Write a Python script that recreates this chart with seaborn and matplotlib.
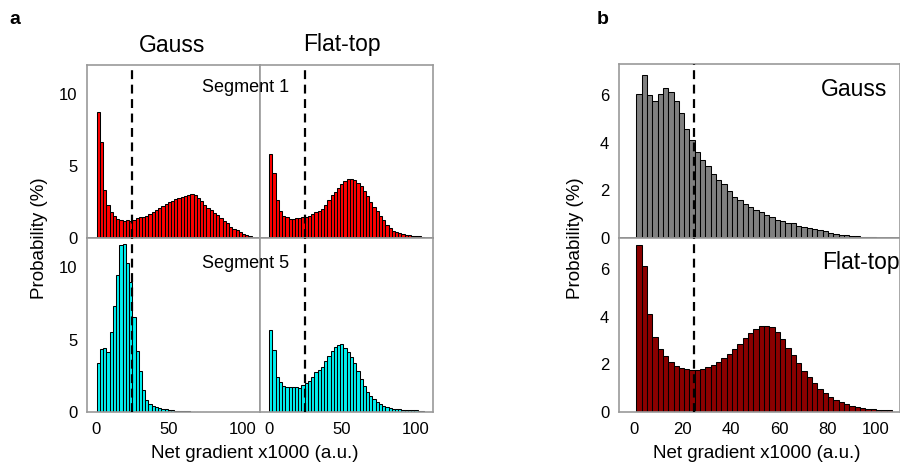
import numpy as np
import pandas as pd
import matplotlib
matplotlib.use("Agg")
import matplotlib.pyplot as plt
import seaborn as sns

sns.set_theme(style="white")
plt.rcParams["font.family"] = ["Liberation Sans", "DejaVu Sans"]
plt.rcParams["text.color"] = "black"
plt.rcParams["axes.labelcolor"] = "black"
plt.rcParams["xtick.color"] = "black"
plt.rcParams["ytick.color"] = "black"

# Histogram binning of net gradient x1000 (a.u.)
BIN_WIDTH = 2.2
N_BINS = 48
THRESHOLD = 25

# Panel a: probability (%) per bin for segment 1 and segment 5
seg1_gauss = [8.76, 6.64, 3.36, 2.32, 1.82, 1.52, 1.31, 1.22, 1.20, 1.24, 1.20, 1.24,
              1.36, 1.47, 1.45, 1.52, 1.66, 1.77, 1.91, 2.07, 2.23, 2.37, 2.48, 2.57,
              2.69, 2.78, 2.85, 2.92, 2.97, 3.06, 3.01, 2.80, 2.55, 2.32, 2.11, 1.91,
              1.72, 1.59, 1.40, 1.20, 1.01, 0.78, 0.64, 0.53, 0.39, 0.28, 0.21, 0.11]
seg1_flat = [5.86, 4.48, 2.64, 1.84, 1.56, 1.43, 1.33, 1.31, 1.36, 1.40, 1.45, 1.49,
             1.56, 1.68, 1.77, 1.89, 2.00, 2.28, 2.64, 2.99, 3.22, 3.49, 3.75, 3.98,
             4.09, 4.09, 4.02, 3.84, 3.61, 3.26, 2.92, 2.53, 2.18, 1.84, 1.54, 1.22,
             0.92, 0.69, 0.51, 0.39, 0.34, 0.28, 0.23, 0.18, 0.16, 0.14, 0.11, 0.09]
seg5_gauss = [3.36, 4.33, 4.44, 4.17, 5.50, 7.30, 9.44, 11.50, 11.60, 10.30, 9.00, 6.55,
              4.20, 2.80, 1.50, 0.80, 0.55, 0.40, 0.32, 0.27, 0.22, 0.18, 0.15, 0.12,
              0.10, 0.08, 0.07, 0.06, 0.05, 0.03, 0.03, 0.02, 0.02, 0.02, 0.02, 0.02,
              0.01, 0.01, 0.01, 0.0, 0.0, 0.0, 0.0, 0.0, 0.0, 0.0, 0.0, 0.0]
seg5_flat = [5.67, 4.28, 2.43, 2.08, 1.81, 1.69, 1.69, 1.74, 1.69, 1.67, 1.85, 1.97,
             2.13, 2.43, 2.73, 2.89, 3.13, 3.52, 3.89, 4.21, 4.47, 4.63, 4.68, 4.44,
             4.12, 3.77, 3.36, 2.82, 2.25, 1.81, 1.39, 1.11, 0.88, 0.69, 0.53, 0.42,
             0.32, 0.28, 0.23, 0.21, 0.19, 0.16, 0.14, 0.14, 0.12, 0.12, 0.09, 0.07]

# Panel b: all segments pooled
all_gauss = [6.06, 6.82, 5.99, 5.76, 6.05, 6.28, 6.12, 5.74, 5.25, 4.57, 4.10, 3.62,
             3.26, 3.03, 2.69, 2.45, 2.27, 1.97, 1.74, 1.58, 1.42, 1.32, 1.17, 1.07,
             0.98, 0.87, 0.77, 0.72, 0.65, 0.61, 0.52, 0.47, 0.43, 0.36, 0.33, 0.28,
             0.22, 0.18, 0.14, 0.11, 0.08, 0.07, 0.06, 0.04, 0.03, 0.02, 0.01, 0.01]
all_flat = [7.01, 6.12, 4.10, 3.16, 2.66, 2.33, 2.09, 1.92, 1.85, 1.81, 1.78, 1.78,
            1.82, 1.88, 1.96, 2.11, 2.25, 2.42, 2.63, 2.87, 3.10, 3.31, 3.49, 3.60,
            3.60, 3.55, 3.35, 3.05, 2.70, 2.40, 2.05, 1.72, 1.45, 1.20, 0.97, 0.80,
            0.62, 0.50, 0.40, 0.33, 0.26, 0.20, 0.17, 0.14, 0.12, 0.10, 0.09, 0.08]

RED = "#ff0000"
CYAN = "#00f0f0"
GREY = "#808080"
DARKRED = "#8b0000"
FRAME = "#9a9a9a"


def draw_hist(ax, values, start, color):
    centers = start + BIN_WIDTH * (np.arange(N_BINS) + 0.5)
    df = pd.DataFrame({"gradient": centers, "prob": values})
    sns.histplot(data=df, x="gradient", weights="prob", binwidth=BIN_WIDTH,
                 binrange=(start, start + N_BINS * BIN_WIDTH), color=color,
                 edgecolor="black", linewidth=0.75, alpha=1, ax=ax)
    ax.axvline(THRESHOLD, color="black", lw=1.6, ls=(0, (4, 2.5)), zorder=5)
    ax.set_xlabel("")
    ax.set_ylabel("")
    for sp in ax.spines.values():
        sp.set_color(FRAME)
        sp.set_linewidth(1.2)
    ax.tick_params(axis="both", which="both", length=3, width=1, color=FRAME,
                   labelsize=12, pad=4, direction="out", labelcolor="black")


W, H = 900, 466
fig = plt.figure(figsize=(9, 4.66), dpi=100)


def box(x0, x1, y_top, y_bot):
    return [x0 / W, 1 - y_bot / H, (x1 - x0) / W, (y_bot - y_top) / H]


# ---- panel a ----
xa0, xa1, xa2 = 87, 260, 433
ya0, ya1, ya2 = 65, 238, 412
ax_tl = fig.add_axes(box(xa0, xa1, ya0, ya1))
ax_tr = fig.add_axes(box(xa1, xa2, ya0, ya1))
ax_bl = fig.add_axes(box(xa0, xa1, ya1, ya2))
ax_br = fig.add_axes(box(xa1, xa2, ya1, ya2))

draw_hist(ax_tl, seg1_gauss, 0.7, RED)
draw_hist(ax_tr, seg1_flat, 0.3, RED)
draw_hist(ax_bl, seg5_gauss, 0.7, CYAN)
draw_hist(ax_br, seg5_flat, 0.3, CYAN)

for ax in (ax_tl, ax_tr, ax_bl, ax_br):
    ax.set_xlim(-6, 112)
    ax.set_ylim(0, 12)
    ax.set_xticks([0, 50, 100])
    ax.set_yticks([0, 5, 10])
for ax in (ax_tl, ax_tr):
    ax.tick_params(axis="x", length=0, labelbottom=False)
    ax.spines["bottom"].set_color("#555555")
for ax in (ax_tr, ax_br):
    ax.tick_params(axis="y", length=0, labelleft=False)

fig.text(172 / W, 1 - 45 / H, "Gauss", ha="center", va="center", fontsize=16.5)
fig.text(342 / W, 1 - 45 / H, "Flat-top", ha="center", va="center", fontsize=16.5)
fig.text(246 / W, 1 - 88 / H, "Segment 1", ha="center", va="center", fontsize=13)
fig.text(246 / W, 1 - 263 / H, "Segment 5", ha="center", va="center", fontsize=13)
fig.text(40 / W, 1 - ya1 / H, "Probability (%)", rotation=90, ha="center",
         va="center", fontsize=13.5)
fig.text(255 / W, 1 - 454 / H, "Net gradient x1000 (a.u.)", ha="center",
         va="center", fontsize=13.5)
fig.text(15 / W, 1 - 20 / H, "a", ha="center", va="center", fontsize=14,
         fontweight="bold")

# ---- panel b ----
xb0, xb1 = 619, 900
yb0, yb1, yb2 = 64, 238, 412
bx_t = fig.add_axes(box(xb0, xb1, yb0, yb1))
bx_b = fig.add_axes(box(xb0, xb1, yb1, yb2))
draw_hist(bx_t, all_gauss, 1.1, GREY)
draw_hist(bx_b, all_flat, 1.1, DARKRED)
for ax in (bx_t, bx_b):
    ax.set_xlim(-6, 110)
    ax.set_ylim(0, 7.3)
    ax.set_yticks([0, 2, 4, 6])
    ax.set_xticks([0, 20, 40, 60, 80, 100])
bx_t.tick_params(axis="x", length=0, labelbottom=False)
bx_t.spines["bottom"].set_color("#555555")

bx_t.text(0.955, 0.855, "Gauss", transform=bx_t.transAxes, ha="right",
          va="center", fontsize=16.5)
bx_b.text(1.0, 0.86, "Flat-top", transform=bx_b.transAxes, ha="right",
          va="center", fontsize=16.5)
fig.text(575 / W, 1 - yb1 / H, "Probability (%)", rotation=90, ha="center",
         va="center", fontsize=13.5)
fig.text(757 / W, 1 - 454 / H, "Net gradient x1000 (a.u.)", ha="center",
         va="center", fontsize=13.5)
fig.text(603 / W, 1 - 20 / H, "b", ha="center", va="center", fontsize=14,
         fontweight="bold")

fig.savefig("out.png", dpi=100)
